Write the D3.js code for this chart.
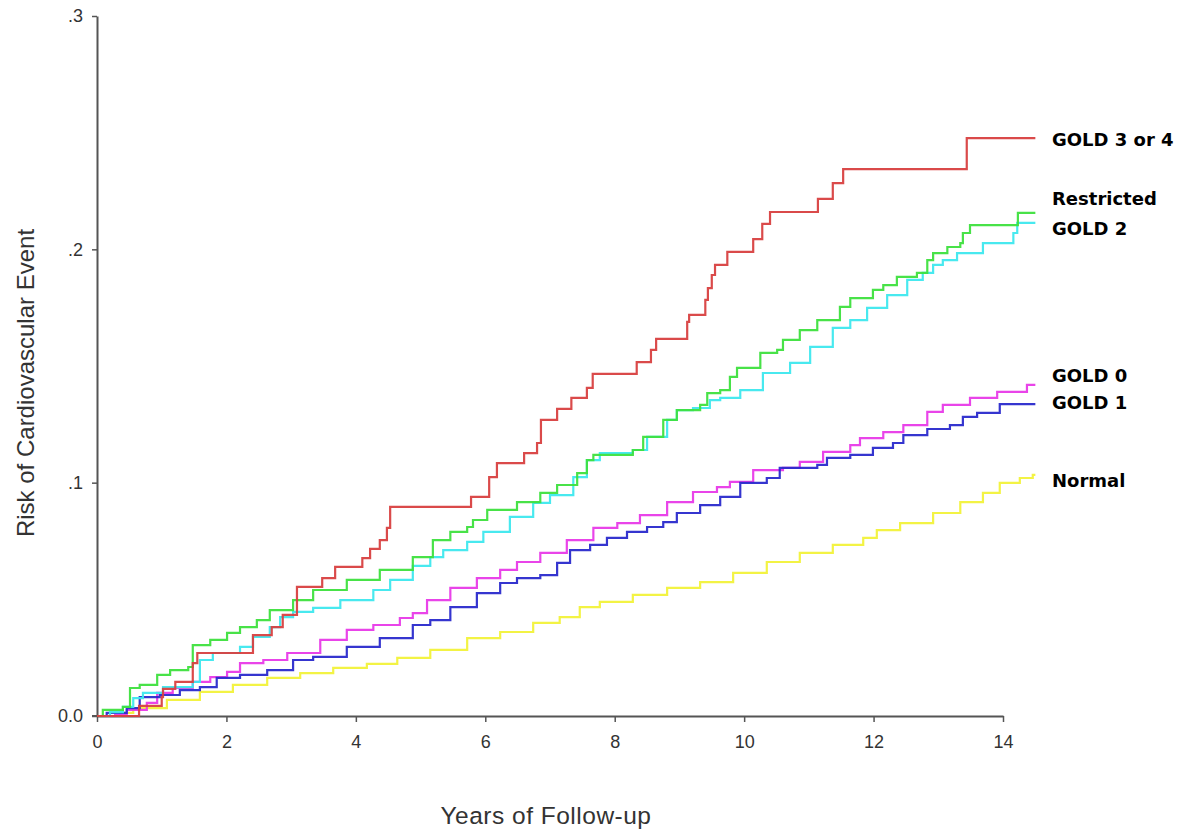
<!DOCTYPE html>
<html><head><meta charset="utf-8">
<script src="https://cdn.jsdelivr.net/npm/d3@7"></script>
<style>body{margin:0;background:#fff;}svg{display:block;}</style>
</head><body>
<svg id="c" width="1186" height="831"></svg>
<script>
// ---- data: [years, cumulative risk] step points ----
const xTicks = [0, 2, 4, 6, 8, 10, 12, 14];
const yTicks = [0, 0.1, 0.2, 0.3];
const yTickLabels = ["0.0", ".1", ".2", ".3"];
const seriesNames = ["Normal", "GOLD 0", "GOLD 1", "GOLD 2", "Restricted", "GOLD 3 or 4"];
const seriesColors = ["#f2f23a", "#e83ae8", "#2a2acc", "#3ee8ee", "#3ee03e", "#d84040"];
const endYear = 14.5;

const normal = [[0,0],[0.2,0],[0.36,0.0013],[0.56,0.0034],[1.08,0.0069],[1.59,0.0103],[2.10,0.0133],[2.63,0.0163],[3.14,0.0184],[3.65,0.0206],[4.17,0.0223],[4.64,0.0249],[5.15,0.0283],[5.72,0.0334],[6.23,0.036],[6.74,0.0399],[7.15,0.0424],[7.46,0.0467],[7.77,0.0489],[8.28,0.0519],[8.81,0.0549],[9.32,0.0574],[9.83,0.0613],[10.35,0.066],[10.86,0.0699],[11.37,0.0733],[11.84,0.0763],[12.05,0.0797],[12.41,0.0827],[12.92,0.087],[13.34,0.0917],[13.69,0.0956],[13.95,0.0999],[14.26,0.102],[14.46,0.1033]];

const gold0 = [[0,0],[0.15,0],[0.28,0.0004],[0.46,0.0026],[0.77,0.0056],[0.93,0.0099],[1.17,0.012],[1.48,0.0146],[1.75,0.0167],[2.01,0.0189],[2.21,0.0227],[2.57,0.024],[2.94,0.027],[3.45,0.0326],[3.86,0.0369],[4.27,0.039],[4.68,0.042],[4.88,0.0441],[5.10,0.0497],[5.46,0.0549],[5.87,0.0591],[6.23,0.0626],[6.49,0.066],[6.85,0.0699],[7.26,0.0754],[7.67,0.0806],[8.04,0.0827],[8.39,0.0861],[8.81,0.0917],[9.21,0.096],[9.58,0.0981],[9.78,0.1003],[10.14,0.1054],[10.60,0.1063],[10.86,0.1089],[11.22,0.1132],[11.64,0.1161],[11.79,0.1191],[12.15,0.1217],[12.46,0.1247],[12.83,0.1303],[13.07,0.1333],[13.49,0.1363],[13.91,0.1389],[14.37,0.1419]];

const gold1 = [[0,0],[0.15,0.0013],[0.46,0.0034],[0.66,0.0081],[0.97,0.009],[1.28,0.0111],[1.59,0.0124],[1.85,0.0163],[2.21,0.0176],[2.63,0.0197],[3.03,0.024],[3.34,0.0253],[3.86,0.0296],[4.37,0.0334],[4.88,0.039],[5.15,0.0411],[5.46,0.0467],[5.87,0.0527],[6.23,0.057],[6.49,0.0591],[6.85,0.0604],[7.11,0.0656],[7.31,0.0711],[7.62,0.0733],[7.88,0.0763],[8.19,0.0789],[8.50,0.081],[8.75,0.0831],[8.96,0.087],[9.32,0.0904],[9.63,0.0939],[9.94,0.0999],[10.35,0.102],[10.55,0.1063],[11.13,0.1076],[11.28,0.1106],[11.64,0.1119],[11.99,0.1149],[12.30,0.117],[12.46,0.1204],[12.83,0.123],[13.18,0.1247],[13.38,0.1282],[13.60,0.1299],[13.95,0.1337]];

const gold2 = [[0,0],[0.2,0.0017],[0.40,0.0039],[0.56,0.0077],[0.71,0.0099],[1.02,0.0124],[1.48,0.0146],[1.59,0.024],[1.79,0.027],[2.21,0.0296],[2.41,0.0339],[2.67,0.0381],[2.83,0.0424],[3.03,0.0446],[3.34,0.0463],[3.76,0.0497],[4.27,0.054],[4.53,0.0583],[4.88,0.0643],[5.15,0.0681],[5.35,0.0711],[5.72,0.0746],[5.97,0.0789],[6.38,0.0853],[6.74,0.0913],[7.0,0.0947],[7.36,0.1024],[7.57,0.1097],[7.77,0.1127],[8.28,0.114],[8.50,0.1196],[8.81,0.1269],[8.96,0.1311],[9.21,0.132],[9.47,0.1354],[9.63,0.1363],[9.94,0.1397],[10.29,0.147],[10.71,0.1513],[11.02,0.1582],[11.37,0.1663],[11.64,0.1697],[11.90,0.1749],[12.21,0.1804],[12.52,0.1869],[12.76,0.1899],[12.92,0.1933],[13.07,0.1954],[13.29,0.1984],[13.69,0.2027],[14.16,0.207],[14.22,0.2113]];

const restricted = [[0,0],[0.09,0.0026],[0.40,0.0039],[0.51,0.012],[0.66,0.0133],[0.93,0.0176],[1.13,0.0197],[1.41,0.021],[1.48,0.0304],[1.75,0.0326],[2.01,0.0356],[2.21,0.0381],[2.47,0.0411],[2.67,0.0454],[3.03,0.0497],[3.34,0.054],[3.86,0.0583],[4.37,0.0626],[4.88,0.0681],[5.19,0.0754],[5.46,0.0789],[5.72,0.081],[5.81,0.084],[6.03,0.0883],[6.49,0.0917],[6.85,0.0956],[7.11,0.099],[7.42,0.1041],[7.57,0.1097],[7.67,0.1119],[8.28,0.114],[8.44,0.1196],[8.75,0.1269],[8.96,0.1311],[9.32,0.1333],[9.43,0.1384],[9.63,0.1397],[9.78,0.1453],[9.89,0.1492],[10.25,0.1556],[10.51,0.1569],[10.60,0.1612],[10.86,0.1654],[11.13,0.1697],[11.48,0.1753],[11.64,0.1791],[11.99,0.1826],[12.15,0.1847],[12.36,0.1882],[12.67,0.1899],[12.83,0.1954],[12.92,0.1984],[13.14,0.201],[13.34,0.2027],[13.38,0.207],[13.49,0.2104],[14.23,0.2156]];

const gold34 = [[0,0],[0.65,0.0043],[1.00,0.0081],[1.02,0.0116],[1.21,0.0146],[1.48,0.0227],[1.55,0.027],[2.41,0.0347],[2.70,0.0381],[2.87,0.0433],[3.09,0.0553],[3.48,0.0591],[3.68,0.0639],[4.10,0.0677],[4.22,0.0716],[4.37,0.0754],[4.48,0.0806],[4.53,0.0896],[5.78,0.0939],[6.06,0.1024],[6.18,0.1084],[6.60,0.1127],[6.80,0.117],[6.86,0.1269],[7.11,0.1316],[7.33,0.1363],[7.57,0.1406],[7.66,0.1466],[8.34,0.1517],[8.56,0.1569],[8.64,0.1616],[9.12,0.1689],[9.15,0.1719],[9.40,0.1783],[9.44,0.1834],[9.50,0.189],[9.55,0.1933],[9.74,0.1989],[10.14,0.2044],[10.28,0.2109],[10.40,0.216],[11.14,0.2216],[11.37,0.2284],[11.53,0.2344],[13.44,0.2477]];

const seriesData = [normal, gold0, gold1, gold2, restricted, gold34];
const labelY = [0.1007, 0.1457, 0.1341, 0.2087, 0.2216, 0.2472]; // label anchor values

// ---- drawing ----
const svg = d3.select("#c");
const x = d3.scaleLinear().domain([0, 14]).range([97, 1003]);
const y = d3.scaleLinear().domain([0, 0.3]).range([716, 16]);

// axes
const xAxis = d3.axisBottom(x).tickValues(xTicks).tickSize(6).tickSizeOuter(0).tickFormat(d3.format("d"));
const gx = svg.append("g").attr("transform", "translate(0,716)").call(xAxis);
const yAxis = d3.axisLeft(y).tickValues(yTicks).tickSize(5).tickSizeOuter(0).tickFormat((d,i)=>yTickLabels[i]);
const gy = svg.append("g").attr("transform", "translate(97,0)").call(yAxis);
[gx, gy].forEach(g => {
  g.select(".domain").attr("stroke", "#555").attr("stroke-width", 2);
  g.selectAll(".tick line").attr("stroke", "#555").attr("stroke-width", 1.5);
  g.selectAll(".tick text").attr("fill", "#333").attr("font-family", "Liberation Sans, Arial, sans-serif").attr("font-size", 18);
});
gx.selectAll(".tick text").attr("dy", "1.25em");
gy.selectAll(".tick text").attr("x", -14);
// extend x axis line left to meet the 0.0 tick
svg.append("line").attr("x1", 92).attr("x2", 97).attr("y1", 716).attr("y2", 716).attr("stroke", "#555").attr("stroke-width", 2);

// lines
const line = d3.line().x(d => x(d[0])).y(d => y(d[1])).curve(d3.curveStepAfter);
seriesData.forEach((s, i) => {
  const pts = s.concat([[endYear, s[s.length - 1][1]]]);
  svg.append("path").datum(pts).attr("d", line)
    .attr("fill", "none").attr("stroke", seriesColors[i]).attr("stroke-width", 2.2)
    .attr("stroke-linejoin", "miter").attr("opacity", 0.95);
});

// series labels
seriesNames.forEach((n, i) => {
  svg.append("text").attr("x", 1052).attr("y", y(labelY[i])).attr("dy", "0.35em")
    .attr("font-family", "DejaVu Sans, sans-serif").attr("font-weight", "bold").attr("font-size", 18)
    .attr("fill", "#000").text(n);
});

// axis titles
svg.append("text").attr("x", 546).attr("y", 824).attr("text-anchor", "middle")
  .attr("font-family", "Liberation Sans, Arial, sans-serif").attr("font-size", 24.5).attr("fill", "#333")
  .attr("letter-spacing", "0.5px")
  .text("Years of Follow-up");
svg.append("text").attr("transform", "translate(34,383) rotate(-90)").attr("text-anchor", "middle")
  .attr("font-family", "Liberation Sans, Arial, sans-serif").attr("font-size", 24).attr("fill", "#333")
  .text("Risk of Cardiovascular Event");
</script>
</body></html>
